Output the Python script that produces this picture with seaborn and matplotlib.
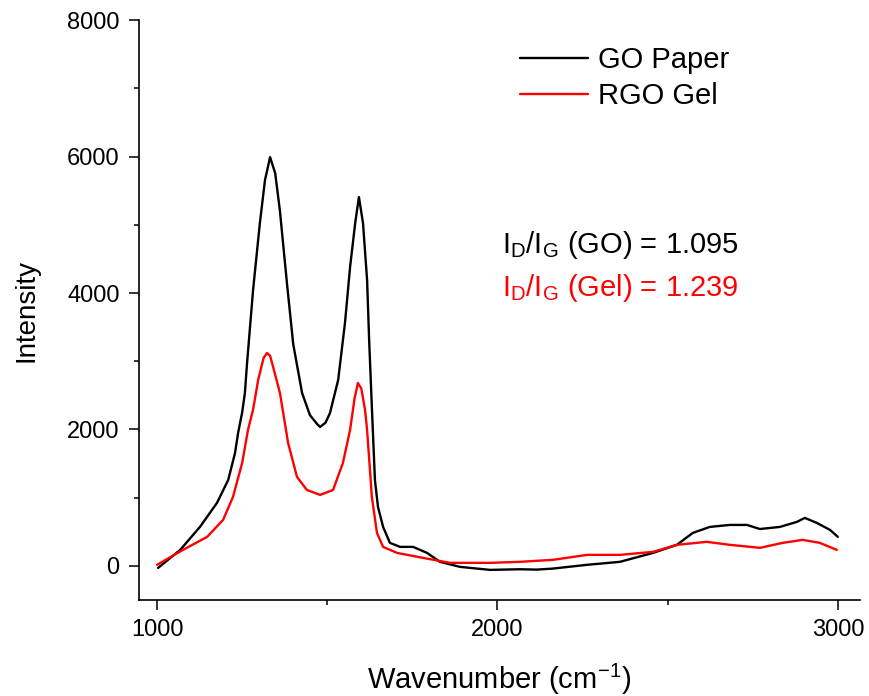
import pandas as pd
import seaborn as sns
import matplotlib.pyplot as plt
from matplotlib.ticker import MultipleLocator

# Raman spectra
go_wavenumber = [1003, 1068, 1126, 1176, 1209, 1229, 1238, 1250, 1258, 1264, 1282, 1302, 1317,
                 1332, 1347, 1361, 1382, 1400, 1426, 1449, 1470, 1479, 1495, 1508, 1532, 1552,
                 1567, 1582, 1593, 1605, 1617, 1623, 1631, 1640, 1649, 1664, 1684, 1714, 1752,
                 1793, 1831, 1890, 1978, 2066, 2116, 2163, 2263, 2360, 2457, 2527, 2574, 2624,
                 2683, 2733, 2771, 2830, 2880, 2903, 2938, 2977, 3000]
go_intensity = [-30, 234, 571, 923, 1260, 1655, 1948, 2250, 2534, 2950, 4043, 5025, 5655,
                5992, 5757, 5200, 4120, 3250, 2534, 2210, 2080, 2036, 2100, 2241, 2725, 3560,
                4380, 5025, 5406, 5025, 4190, 3311, 2329, 1260, 864, 571, 337, 278, 278,
                190, 59, -15, -59, -50, -55, -40, 15, 59, 190, 308, 483, 571,
                600, 600, 540, 571, 645, 703, 630, 527, 425]

gel_wavenumber = [1000, 1076, 1147, 1194, 1223, 1250, 1267, 1282, 1297, 1302, 1313, 1323,
                  1332, 1341, 1361, 1385, 1411, 1440, 1479, 1517, 1546, 1567, 1580, 1590,
                  1600, 1611, 1617, 1631, 1646, 1664, 1705, 1781, 1861, 1978, 2066, 2163,
                  2263, 2360, 2457, 2527, 2615, 2683, 2771, 2838, 2897, 2947, 2997]
gel_intensity = [15, 234, 425, 674, 1011, 1509, 1992, 2290, 2725, 2827, 3050, 3120,
                 3080, 2915, 2534, 1800, 1304, 1113, 1040, 1113, 1509, 1992, 2450, 2681,
                 2600, 2285, 1992, 1011, 483, 278, 190, 117, 44, 44, 59, 88,
                 161, 161, 205, 308, 352, 308, 264, 337, 381, 337, 234]

go = pd.DataFrame({'Wavenumber': go_wavenumber, 'Intensity': go_intensity})
gel = pd.DataFrame({'Wavenumber': gel_wavenumber, 'Intensity': gel_intensity})

sns.set_style('ticks')
plt.rcParams['font.family'] = ['Liberation Sans', 'DejaVu Sans']
plt.rcParams['mathtext.default'] = 'regular'
plt.rcParams['text.color'] = 'black'
plt.rcParams['axes.labelcolor'] = 'black'

fig = plt.figure(figsize=(8.69, 6.96), dpi=100)
ax = fig.add_axes([0.16, 0.138, 0.8296, 0.833])

sns.lineplot(data=go, x='Wavenumber', y='Intensity', color='black', linewidth=1.7,
             label='GO Paper', ax=ax)
sns.lineplot(data=gel, x='Wavenumber', y='Intensity', color='#ff0000', linewidth=1.7,
             label='RGO Gel', ax=ax)

ax.set_xlim(947, 3065)
ax.set_ylim(-500, 8000)
ax.xaxis.set_major_locator(MultipleLocator(1000))
ax.xaxis.set_minor_locator(MultipleLocator(500))
ax.yaxis.set_major_locator(MultipleLocator(2000))
ax.yaxis.set_minor_locator(MultipleLocator(1000))

for side in ['top', 'right']:
    ax.spines[side].set_visible(False)
for side in ['left', 'bottom']:
    ax.spines[side].set_linewidth(1.2)
    ax.spines[side].set_color('black')

ax.tick_params(which='major', direction='out', length=7.5, width=1.1, labelsize=17,
               colors='black', pad=6.5)
ax.tick_params(which='minor', direction='out', length=3.8, width=1.1, colors='black')

ax.set_xlabel('Wavenumber (cm$^{-1}$)', fontsize=21, labelpad=15)
ax.set_ylabel('Intensity', fontsize=20, labelpad=20)

ax.legend(loc='upper left', bbox_to_anchor=(0.528, 0.955), frameon=False, fontsize=21,
          handlelength=2.35, handletextpad=0.35, labelspacing=0.28, borderpad=0,
          borderaxespad=0)

ax.text(0.503, 0.598, '$I_D/I_G$ (GO) = 1.095', transform=ax.transAxes, fontsize=21,
        color='black', va='baseline')
ax.text(0.503, 0.524, '$I_D/I_G$ (Gel) = 1.239', transform=ax.transAxes, fontsize=21,
        color='#ff0000', va='baseline')

plt.savefig('out.png', dpi=100)
